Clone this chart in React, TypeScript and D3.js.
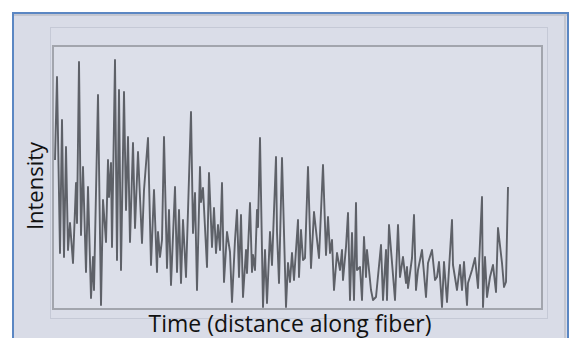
import React from 'react';
import * as d3 from 'd3';

// distance along fiber (arbitrary units) and backscatter intensity
const distance = [
  2, 4, 7, 9, 11, 13, 15, 17, 20, 23, 24, 26, 28, 30, 33, 35, 38, 40, 41, 45,
  48, 50, 53, 55, 56, 58, 59, 62, 64, 66, 68, 71, 73, 75, 77, 80, 82, 85, 89, 91,
  95, 98, 101, 104, 105, 107, 109, 111, 114, 116, 118, 122, 124, 126, 128, 130, 133, 138, 140, 142,
  144, 147, 148, 150, 154, 156, 159, 161, 163, 165, 167, 169, 171, 174, 177, 179, 182, 184, 186, 188,
  190, 193, 194, 197, 199, 200, 202, 204, 205, 207, 210, 212, 214, 217, 219, 223, 224, 226, 229, 233,
  235, 237, 239, 241, 245, 246, 248, 250, 252, 255, 258, 261, 266, 270, 273, 275, 277, 279, 281, 284,
  287, 289, 290, 293, 295, 297, 299, 301, 303, 304, 307, 309, 311, 313, 314, 318, 320, 323, 328, 330,
  333, 334, 336, 338, 342, 345, 347, 350, 353, 354, 355, 359, 361, 363, 365, 369, 373, 375, 379, 382,
  384, 386, 389, 391, 394, 399, 400, 404, 407, 409, 411, 414, 415, 419, 422, 425, 429, 430, 432, 434,
  437, 440, 443, 445, 449, 451, 453, 455,
];
const intensity = [
  149, 232, 56, 189, 52, 162, 59, 86, 46, 126, 86, 247, 74, 142, 37, 122, 11, 52, 19, 214,
  4, 109, 67, 149, 112, 146, 62, 249, 49, 219, 39, 217, 99, 172, 67, 166, 81, 157, 66, 119,
  171, 44, 119, 37, 77, 52, 69, 172, 41, 99, 24, 122, 37, 99, 26, 89, 32, 197, 76, 116,
  19, 142, 107, 121, 42, 136, 62, 101, 56, 84, 59, 126, 27, 77, 57, 7, 69, 99, 32, 94,
  12, 59, 36, 106, 37, 54, 39, 99, 82, 171, 2, 59, 6, 77, 44, 152, 77, 26, 151, 2,
  46, 27, 56, 29, 89, 32, 79, 49, 51, 142, 41, 97, 51, 144, 54, 92, 56, 69, 19, 56,
  39, 59, 29, 62, 96, 9, 76, 9, 106, 39, 42, 9, 72, 32, 59, 19, 9, 12, 64, 9,
  59, 9, 84, 59, 9, 84, 32, 52, 26, 42, 21, 51, 94, 19, 39, 59, 12, 46, 59, 29,
  32, 47, 2, 47, 7, 89, 44, 19, 44, 19, 47, 4, 26, 39, 51, 21, 112, 2, 52, 12,
  32, 44, 17, 81, 46, 22, 27, 122,
];

const W = 572;
const H = 338;
const plot = { left: 53, top: 46, right: 542, bottom: 309 };

export default function App() {
  const data = distance.map((d, i) => [d, intensity[i]] as [number, number]);

  const x = d3.scaleLinear().domain([0, 489]).range([plot.left, plot.right]);
  const y = d3.scaleLinear().domain([0, 263]).range([plot.bottom, plot.top]);

  const line = d3
    .line<[number, number]>()
    .x(d => x(d[0]))
    .y(d => y(d[1]))
    .curve(d3.curveLinear);

  return (
    <div style={{ position: 'fixed', left: 0, top: 0, width: W, height: H, background: '#fff' }}>
      <svg width={W} height={H} style={{ display: 'block' }}>
        {/* outer slide frame */}
        <rect x={13} y={13} width={555} height={340} fill="#d9dce7" stroke="#5b87c3" strokeWidth={2} />
        <line x1={14} x2={567} y1={15} y2={15} stroke="#c3c6d0" strokeWidth={2} />
        <line x1={565} x2={565} y1={15} y2={338} stroke="#c3c6d0" strokeWidth={2} />
        {/* faint inner frame */}
        <rect x={50.5} y={27.5} width={497} height={291} fill="#dadde8" stroke="#c5c9d6" strokeWidth={1} />
        {/* plot box */}
        <rect
          x={plot.left}
          y={plot.top}
          width={plot.right - plot.left}
          height={plot.bottom - plot.top}
          fill="#dcdfe9"
          stroke="#a2a5ad"
          strokeWidth={2}
        />
        <path
          d={line(data) ?? ''}
          fill="none"
          stroke="#5e6168"
          strokeWidth={1.9}
          strokeLinejoin="round"
        />
        <text
          transform={`translate(43, 186) rotate(-90)`}
          textAnchor="middle"
          fontFamily="'Open Sans', 'Noto Sans', sans-serif"
          fontSize={22}
          fill="#111"
        >
          Intensity
        </text>
        <text
          x={290}
          y={332}
          textAnchor="middle"
          fontFamily="'Open Sans', 'Noto Sans', sans-serif"
          fontSize={23}
          fill="#111"
        >
          Time (distance along fiber)
        </text>
      </svg>
    </div>
  );
}
